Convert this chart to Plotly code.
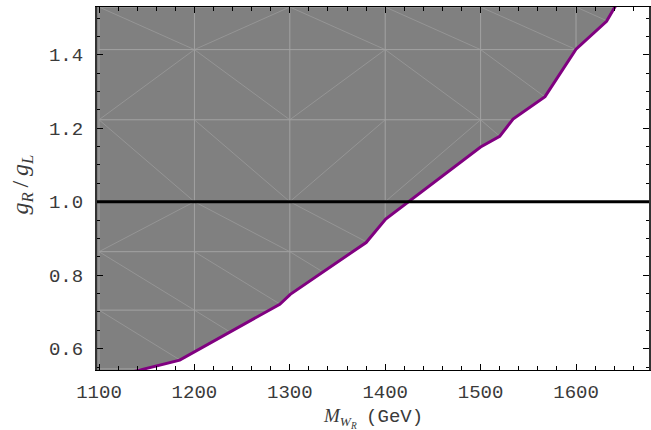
import plotly.graph_objects as go

# ---- data ----
boundary_mass = [1137, 1184.6, 1289.5, 1300.5, 1380, 1400.5, 1500, 1520, 1534, 1567.5, 1600, 1632, 1643]
boundary_ratio = [0.538, 0.569, 0.721, 0.748, 0.889, 0.953, 1.149, 1.178, 1.225, 1.286, 1.415, 1.491, 1.54]

reference_ratio = 1.0

# plotting-mesh (triangulation artefact of the filled region)
mesh_mass = [1100, 1200, 1300, 1400, 1500, 1600, 1700]
mesh_ratio = [0.545, 0.705, 0.864, 1.0, 1.223, 1.414, 1.53]
mesh_diag = ["DDDDDD", "DDDDDD", "ADDADD", "DDAADD", "ADADDD", "DADDDD"]  # rows bottom->top

x_range = [1097.9, 1676.5]
y_range = [0.542, 1.530]
x_ticks = [1100, 1200, 1300, 1400, 1500, 1600]
y_ticks = [0.6, 0.8, 1.0, 1.2, 1.4]

GRAY = "#808080"
PURPLE = "#800080"

fig = go.Figure()

# mesh lines (horizontal + vertical)
hx, hy = [], []
for yv in mesh_ratio:
    hx += [mesh_mass[0], mesh_mass[-1], None]
    hy += [yv, yv, None]
for xv in mesh_mass:
    hx += [xv, xv, None]
    hy += [mesh_ratio[0], mesh_ratio[-1], None]
fig.add_trace(go.Scatter(x=hx, y=hy, mode="lines", line=dict(color="#a6a6a6", width=0.9),
                         hoverinfo="skip", showlegend=False))

# mesh diagonals
dx, dy = [], []
for r, row in enumerate(mesh_diag):
    for c, kind in enumerate(row):
        x0, x1 = mesh_mass[c], mesh_mass[c + 1]
        y0, y1 = mesh_ratio[r], mesh_ratio[r + 1]
        if kind == "A":
            dx += [x0, x1, None]; dy += [y0, y1, None]
        else:
            dx += [x0, x1, None]; dy += [y1, y0, None]
fig.add_trace(go.Scatter(x=dx, y=dy, mode="lines", line=dict(color="#9e9e9e", width=0.7),
                         hoverinfo="skip", showlegend=False))

# white (allowed) region to the lower right of the boundary
pad = 50
wx = boundary_mass + [x_range[1] + pad, x_range[1] + pad, boundary_mass[0]]
wy = boundary_ratio + [boundary_ratio[-1], y_range[0] - 1, y_range[0] - 1]
fig.add_trace(go.Scatter(x=wx, y=wy, mode="lines", fill="toself", fillcolor="white",
                         line=dict(color="white", width=0), hoverinfo="skip", showlegend=False))

# boundary curve
fig.add_trace(go.Scatter(x=boundary_mass, y=boundary_ratio, mode="lines",
                         line=dict(color=PURPLE, width=3), hoverinfo="skip", showlegend=False))

# reference line g_R/g_L = 1
fig.add_shape(type="line", xref="paper", x0=0, x1=1, yref="y", y0=reference_ratio, y1=reference_ratio,
              line=dict(color="black", width=3), layer="above")

tickfont = dict(family="Liberation Mono", size=19, color="#3a3a3a")
fig.update_xaxes(range=x_range, tickvals=x_ticks, ticks="inside", ticklen=6, tickcolor="black",
                 showline=True, linecolor="black", linewidth=1, mirror="ticks",
                 showgrid=False, zeroline=False, tickfont=tickfont, ticklabelstandoff=4,
                 minor=dict(dtick=20, tick0=1100, ticks="inside", ticklen=4, tickcolor="black", showgrid=False))
fig.update_yaxes(range=y_range, tickvals=y_ticks, tickformat=".1f", ticks="inside", ticklen=6,
                 tickcolor="black", showline=True, linecolor="#333333", linewidth=2, mirror="ticks",
                 showgrid=False, zeroline=False, tickfont=tickfont, ticklabelstandoff=8,
                 minor=dict(dtick=0.05, tick0=0.6, ticks="inside", ticklen=3, tickcolor="black", showgrid=False))

fig.add_annotation(xref="paper", yref="paper", x=0.5, y=0, yshift=-48, xanchor="center", yanchor="middle",
                   showarrow=False,
                   text="<i>M</i><sub><i>W</i><sub><i>R</i></sub></sub>\u00a0\u00a0<span style='font-family:Liberation Mono'>(GeV)</span>",
                   font=dict(family="Liberation Serif", size=19, color="#3a3a3a"))
fig.add_annotation(xref="paper", yref="paper", x=0, xshift=-76, y=0.5, yshift=4, xanchor="center",
                   yanchor="middle", showarrow=False, textangle=-90,
                   text="<i>g</i><sub><i>R</i></sub>\u2009/\u2009<i>g</i><sub><i>L</i></sub>",
                   font=dict(family="Liberation Serif", size=24, color="#3a3a3a"))

fig.update_layout(width=651, height=430, margin=dict(l=97, r=0, t=7, b=60),
                  plot_bgcolor=GRAY, paper_bgcolor="white", showlegend=False)

fig.write_html("out.html", config={"displayModeBar": False},
               post_script="document.body.style.margin='0';document.body.style.overflow='hidden';")
